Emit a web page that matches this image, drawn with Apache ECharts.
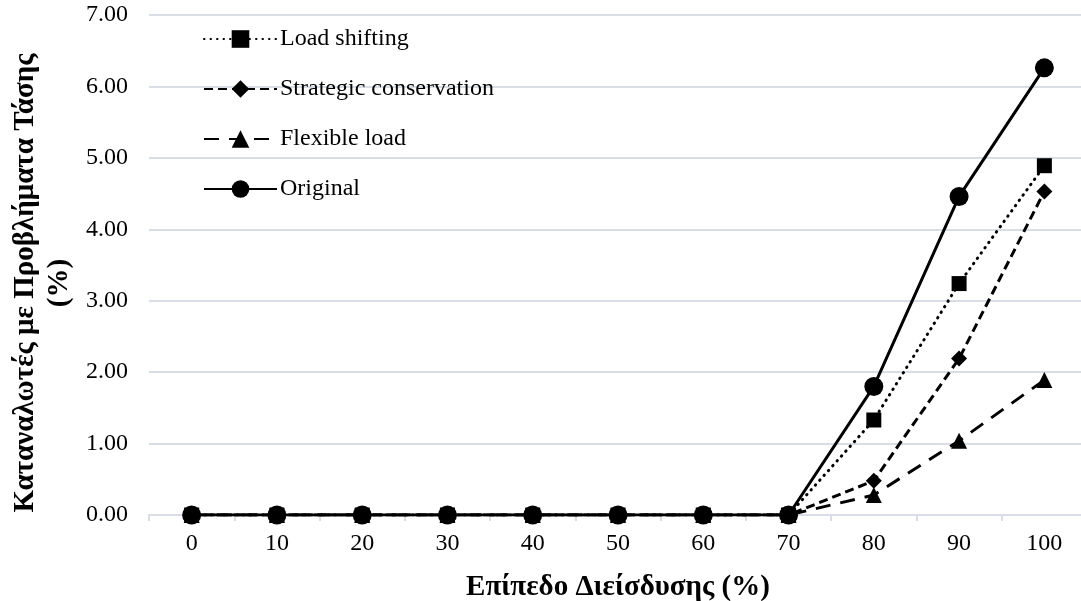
<!DOCTYPE html>
<html>
<head>
<meta charset="utf-8">
<script src="https://cdn.jsdelivr.net/npm/echarts@6/dist/echarts.min.js"></script>
<style>
html, body { margin: 0; padding: 0; background: #fff; }
#chart { width: 1081px; height: 601px; }
</style>
</head>
<body>
<div id="chart"></div>
<script>
var penetration = ['0', '10', '20', '30', '40', '50', '60', '70', '80', '90', '100'];
var loadShifting = [0, 0, 0, 0, 0, 0, 0, 0, 1.33, 3.24, 4.89];
var strategicConservation = [0, 0, 0, 0, 0, 0, 0, 0, 0.48, 2.19, 4.53];
var flexibleLoad = [0, 0, 0, 0, 0, 0, 0, 0, 0.28, 1.04, 1.89];
var original = [0, 0, 0, 0, 0, 0, 0, 0, 1.80, 4.46, 6.26];

var serif = '"Liberation Serif", "Times New Roman", serif';
var gridColor = '#d9dde6';

var myChart = echarts.init(document.getElementById('chart'));

function lineSeries(name, data, symbol, size, lineType, cap) {
    return {
        name: name,
        type: 'line',
        data: data,
        symbol: symbol,
        symbolSize: size,
        showAllSymbol: true,
        lineStyle: { color: '#000', width: 3, type: lineType, cap: cap || 'butt' },
        itemStyle: { color: '#000' },
        animation: false
    };
}

var option = {
    backgroundColor: '#fff',
    textStyle: { fontFamily: serif },
    grid: { left: 149, right: -6, top: 15, bottom: 86, outerBoundsMode: 'none' },
    legend: {
        orient: 'vertical',
        left: 198,
        top: 22,
        itemWidth: 73,
        itemHeight: 22,
        itemGap: 26,
        textStyle: { fontFamily: serif, fontSize: 24, color: '#000', padding: [0, 0, 0, -2] },
        data: ['Load shifting', 'Strategic conservation', 'Flexible load', 'Original']
    },
    // y axis title, two lines, placed by hand like the original
    graphic: [{
        type: 'text',
        x: 43,
        y: 283,
        rotation: Math.PI / 2,
        style: {
            text: 'Καταναλωτές με Προβλήματα Τάσης\n(%)',
            fontFamily: serif,
            fontSize: 29,
            fontWeight: 'bold',
            lineHeight: 34,
            fill: '#000',
            align: 'center',
            verticalAlign: 'middle'
        }
    }],
    xAxis: {
        type: 'category',
        data: penetration,
        boundaryGap: true,
        name: 'Επίπεδο Διείσδυσης (%)',
        nameLocation: 'middle',
        nameGap: 58,
        nameTextStyle: { fontFamily: serif, fontSize: 29, fontWeight: 'bold', color: '#000' },
        axisLine: { lineStyle: { color: gridColor, width: 2 } },
        axisTick: { show: true, length: 6, lineStyle: { color: gridColor, width: 2 } },
        axisLabel: { fontFamily: serif, fontSize: 24, color: '#000', margin: 17 }
    },
    yAxis: {
        type: 'value',
        min: 0,
        max: 7,
        interval: 1,
        axisLine: { show: false },
        axisTick: { show: false },
        axisLabel: {
            fontFamily: serif, fontSize: 24, color: '#000', margin: 21,
            formatter: function (v) { return v.toFixed(2); }
        },
        splitLine: { lineStyle: { color: gridColor, width: 2 } }
    },
    series: [
        lineSeries('Load shifting', loadShifting, 'rect', 15, [0.5, 6], 'round'),
        lineSeries('Strategic conservation', strategicConservation, 'diamond', 16, [9, 5]),
        lineSeries('Flexible load', flexibleLoad, 'triangle', 16, [15, 10]),
        lineSeries('Original', original, 'circle', 19, 'solid')
    ]
};
myChart.setOption(option);
</script>
</body>
</html>
